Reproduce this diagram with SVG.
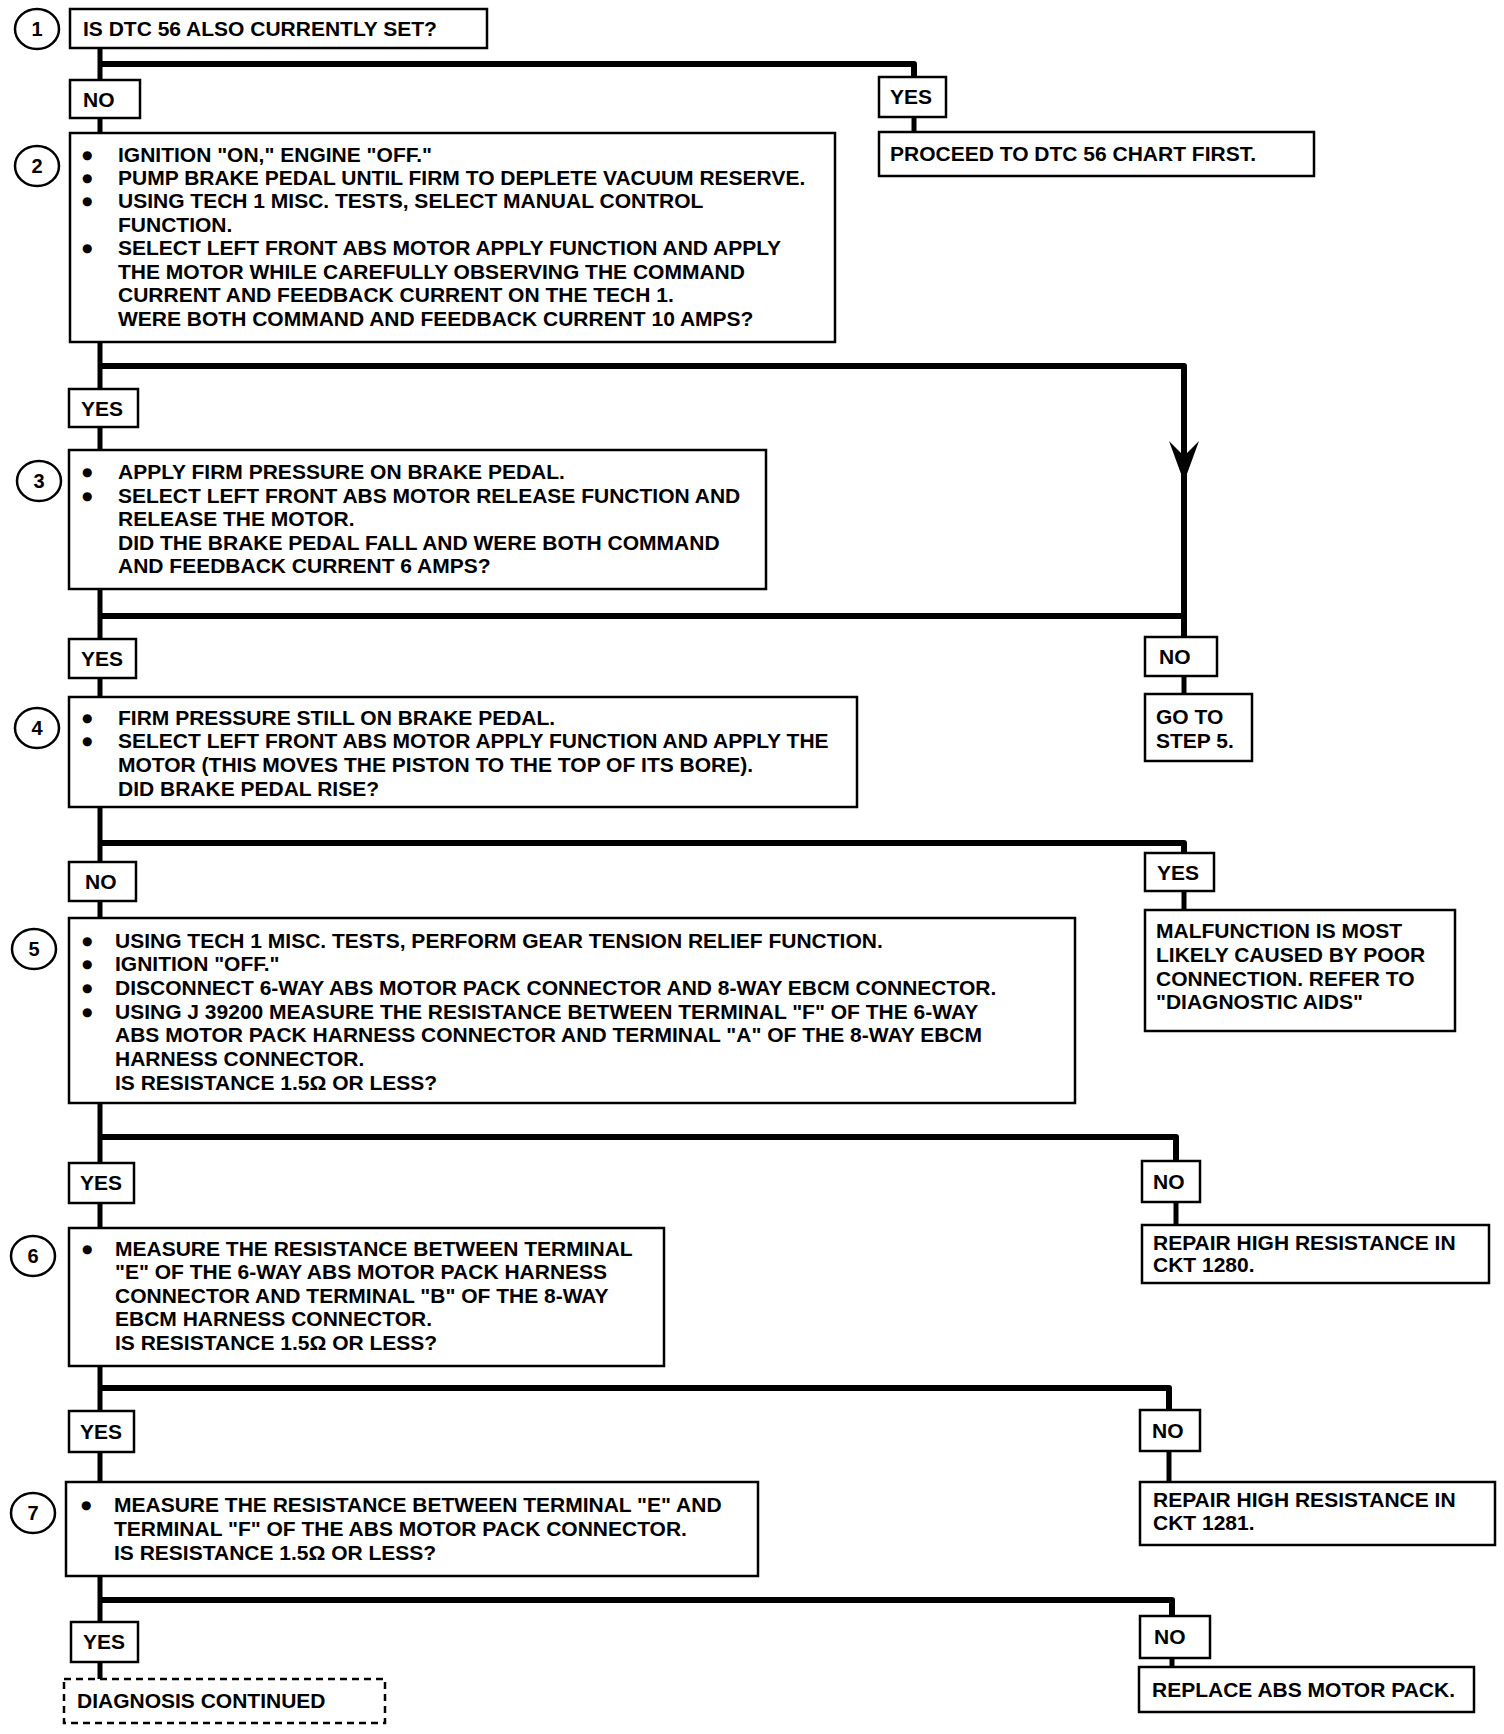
<svg xmlns="http://www.w3.org/2000/svg" width="1504" height="1734" viewBox="0 0 1504 1734">
<style>
.box{fill:#fff;stroke:#000;stroke-width:2.5}
.dash{fill:#fff;stroke:#000;stroke-width:2.5;stroke-dasharray:7 5}
.num{fill:#fff;stroke:#000;stroke-width:2.5}
.t{font-family:"Liberation Sans",Arial,sans-serif;font-weight:bold;font-size:21px;fill:#000}
.b{font-family:"DejaVu Sans",sans-serif;font-size:12px}
.n{font-family:"Liberation Sans",Arial,sans-serif;font-weight:bold;font-size:20px;fill:#000;text-anchor:middle}
.bar{fill:none;stroke:#000;stroke-width:6;stroke-linejoin:round}
.stem{fill:none;stroke:#000;stroke-width:5}
</style>
<rect width="1504" height="1734" fill="#fff"/>
<g id="connectors">
<path class="stem" d="M100,48V80M100,118V133M100,342V389M100,427V450M100,589V639M100,678V697M100,807V862M100,901V918M100,1103V1163M100,1203V1228M100,1366V1411M100,1452V1482M100,1576V1622M100,1662V1679"/>
<path class="bar" d="M100,64H914V77"/>
<path class="stem" d="M914,117V132"/>
<path class="bar" d="M100,366H1184V636"/>
<path class="bar" d="M100,616H1184"/>
<polygon points="1169,441 1184,456 1199,441 1184,482" fill="#000"/>
<path class="stem" d="M1184,676V694"/>
<path class="bar" d="M100,843H1184V853"/>
<path class="stem" d="M1184,891V910"/>
<path class="bar" d="M100,1137H1176V1161"/>
<path class="stem" d="M1176,1202V1225"/>
<path class="bar" d="M100,1388H1169V1410"/>
<path class="stem" d="M1169,1451V1482"/>
<path class="bar" d="M100,1600H1172V1616"/>
<path class="stem" d="M1172,1658V1667"/>
</g>
<g id="step1">
<ellipse class="num" cx="37" cy="29" rx="22" ry="20"/><text class="n" x="37" y="36">1</text>
<rect class="box" x="70" y="9" width="417" height="39"/>
<text class="t" x="83" y="36">IS DTC 56 ALSO CURRENTLY SET?</text>
</g>
<g id="no1"><rect class="box" x="70" y="80" width="70" height="38"/><text class="t" x="83" y="107">NO</text></g>
<g id="yes1"><rect class="box" x="879" y="77" width="67" height="40"/><text class="t" x="890" y="104">YES</text></g>
<g id="proceed"><rect class="box" x="879" y="132" width="435" height="44"/><text class="t" x="890" y="161">PROCEED TO DTC 56 CHART FIRST.</text></g>
<g id="step2">
<ellipse class="num" cx="37" cy="166" rx="22" ry="20"/><text class="n" x="37" y="173">2</text>
<rect class="box" x="70" y="133" width="765" height="209"/>
<text class="t"><tspan class="b" x="82" y="159">●</tspan><tspan x="118" y="162">IGNITION "ON," ENGINE "OFF."</tspan>
<tspan class="b" x="82" y="182">●</tspan><tspan x="118" y="185">PUMP BRAKE PEDAL UNTIL FIRM TO DEPLETE VACUUM RESERVE.</tspan>
<tspan class="b" x="82" y="205">●</tspan><tspan x="118" y="208">USING TECH 1 MISC. TESTS, SELECT MANUAL CONTROL</tspan>
<tspan x="118" y="232">FUNCTION.</tspan>
<tspan class="b" x="82" y="252">●</tspan><tspan x="118" y="255">SELECT LEFT FRONT ABS MOTOR APPLY FUNCTION AND APPLY</tspan>
<tspan x="118" y="279">THE MOTOR WHILE CAREFULLY OBSERVING THE COMMAND</tspan>
<tspan x="118" y="302">CURRENT AND FEEDBACK CURRENT ON THE TECH 1.</tspan>
<tspan x="118" y="326">WERE BOTH COMMAND AND FEEDBACK CURRENT 10 AMPS?</tspan></text>
</g>
<g id="yes2"><rect class="box" x="69" y="389" width="69" height="38"/><text class="t" x="81" y="416">YES</text></g>
<g id="step3">
<ellipse class="num" cx="39" cy="481" rx="22" ry="20"/><text class="n" x="39" y="488">3</text>
<rect class="box" x="69" y="450" width="697" height="139"/>
<text class="t"><tspan class="b" x="82" y="476">●</tspan><tspan x="118" y="479">APPLY FIRM PRESSURE ON BRAKE PEDAL.</tspan>
<tspan class="b" x="82" y="500">●</tspan><tspan x="118" y="503">SELECT LEFT FRONT ABS MOTOR RELEASE FUNCTION AND</tspan>
<tspan x="118" y="526">RELEASE THE MOTOR.</tspan>
<tspan x="118" y="550">DID THE BRAKE PEDAL FALL AND WERE BOTH COMMAND</tspan>
<tspan x="118" y="573">AND FEEDBACK CURRENT 6 AMPS?</tspan></text>
</g>
<g id="yes3"><rect class="box" x="69" y="639" width="67" height="39"/><text class="t" x="81" y="666">YES</text></g>
<g id="no3"><rect class="box" x="1145" y="637" width="72" height="39"/><text class="t" x="1159" y="664">NO</text></g>
<g id="goto5"><rect class="box" x="1145" y="694" width="107" height="67"/>
<text class="t"><tspan x="1156" y="724">GO TO</tspan><tspan x="1156" y="748">STEP 5.</tspan></text></g>
<g id="step4">
<ellipse class="num" cx="37" cy="728" rx="22" ry="20"/><text class="n" x="37" y="735">4</text>
<rect class="box" x="69" y="697" width="788" height="110"/>
<text class="t"><tspan class="b" x="82" y="722">●</tspan><tspan x="118" y="725">FIRM PRESSURE STILL ON BRAKE PEDAL.</tspan>
<tspan class="b" x="82" y="745">●</tspan><tspan x="118" y="748">SELECT LEFT FRONT ABS MOTOR APPLY FUNCTION AND APPLY THE</tspan>
<tspan x="118" y="772">MOTOR (THIS MOVES THE PISTON TO THE TOP OF ITS BORE).</tspan>
<tspan x="118" y="796">DID BRAKE PEDAL RISE?</tspan></text>
</g>
<g id="no4"><rect class="box" x="69" y="862" width="67" height="39"/><text class="t" x="85" y="889">NO</text></g>
<g id="yes4"><rect class="box" x="1145" y="853" width="69" height="38"/><text class="t" x="1157" y="880">YES</text></g>
<g id="malfunction"><rect class="box" x="1145" y="910" width="310" height="121"/>
<text class="t"><tspan x="1156" y="938">MALFUNCTION IS MOST</tspan><tspan x="1156" y="962">LIKELY CAUSED BY POOR</tspan><tspan x="1156" y="986">CONNECTION. REFER TO</tspan><tspan x="1156" y="1009">"DIAGNOSTIC AIDS"</tspan></text></g>
<g id="step5">
<ellipse class="num" cx="34" cy="949" rx="22" ry="20"/><text class="n" x="34" y="956">5</text>
<rect class="box" x="69" y="918" width="1006" height="185"/>
<text class="t"><tspan class="b" x="82" y="945">●</tspan><tspan x="115" y="948">USING TECH 1 MISC. TESTS, PERFORM GEAR TENSION RELIEF FUNCTION.</tspan>
<tspan class="b" x="82" y="968">●</tspan><tspan x="115" y="971">IGNITION "OFF."</tspan>
<tspan class="b" x="82" y="992">●</tspan><tspan x="115" y="995">DISCONNECT 6-WAY ABS MOTOR PACK CONNECTOR AND 8-WAY EBCM CONNECTOR.</tspan>
<tspan class="b" x="82" y="1016">●</tspan><tspan x="115" y="1019">USING J 39200 MEASURE THE RESISTANCE BETWEEN TERMINAL "F" OF THE 6-WAY</tspan>
<tspan x="115" y="1042">ABS MOTOR PACK HARNESS CONNECTOR AND TERMINAL "A" OF THE 8-WAY EBCM</tspan>
<tspan x="115" y="1066">HARNESS CONNECTOR.</tspan>
<tspan x="115" y="1090">IS RESISTANCE 1.5Ω OR LESS?</tspan></text>
</g>
<g id="yes5"><rect class="box" x="69" y="1163" width="65" height="40"/><text class="t" x="80" y="1190">YES</text></g>
<g id="no5"><rect class="box" x="1142" y="1161" width="58" height="41"/><text class="t" x="1153" y="1189">NO</text></g>
<g id="repair1280"><rect class="box" x="1142" y="1225" width="347" height="58"/>
<text class="t"><tspan x="1153" y="1250">REPAIR HIGH RESISTANCE IN</tspan><tspan x="1153" y="1272">CKT 1280.</tspan></text></g>
<g id="step6">
<ellipse class="num" cx="33" cy="1256" rx="22" ry="20"/><text class="n" x="33" y="1263">6</text>
<rect class="box" x="69" y="1228" width="595" height="138"/>
<text class="t"><tspan class="b" x="82" y="1253">●</tspan><tspan x="115" y="1256">MEASURE THE RESISTANCE BETWEEN TERMINAL</tspan>
<tspan x="115" y="1279">"E" OF THE 6-WAY ABS MOTOR PACK HARNESS</tspan>
<tspan x="115" y="1303">CONNECTOR AND TERMINAL "B" OF THE 8-WAY</tspan>
<tspan x="115" y="1326">EBCM HARNESS CONNECTOR.</tspan>
<tspan x="115" y="1350">IS RESISTANCE 1.5Ω OR LESS?</tspan></text>
</g>
<g id="yes6"><rect class="box" x="69" y="1411" width="65" height="41"/><text class="t" x="80" y="1439">YES</text></g>
<g id="no6"><rect class="box" x="1140" y="1410" width="60" height="41"/><text class="t" x="1152" y="1438">NO</text></g>
<g id="repair1281"><rect class="box" x="1140" y="1482" width="355" height="63"/>
<text class="t"><tspan x="1153" y="1507">REPAIR HIGH RESISTANCE IN</tspan><tspan x="1153" y="1530">CKT 1281.</tspan></text></g>
<g id="step7">
<ellipse class="num" cx="33" cy="1513" rx="22" ry="20"/><text class="n" x="33" y="1520">7</text>
<rect class="box" x="66" y="1482" width="692" height="94"/>
<text class="t"><tspan class="b" x="81" y="1509">●</tspan><tspan x="114" y="1512">MEASURE THE RESISTANCE BETWEEN TERMINAL "E" AND</tspan>
<tspan x="114" y="1536">TERMINAL "F" OF THE ABS MOTOR PACK CONNECTOR.</tspan>
<tspan x="114" y="1560">IS RESISTANCE 1.5Ω OR LESS?</tspan></text>
</g>
<g id="yes7"><rect class="box" x="71" y="1622" width="67" height="40"/><text class="t" x="83" y="1649">YES</text></g>
<g id="no7"><rect class="box" x="1140" y="1616" width="70" height="42"/><text class="t" x="1154" y="1644">NO</text></g>
<g id="replace"><rect class="box" x="1139" y="1667" width="335" height="45"/><text class="t" x="1152" y="1697">REPLACE ABS MOTOR PACK.</text></g>
<g id="continued"><rect class="dash" x="64" y="1679" width="321" height="44"/><text class="t" x="77" y="1708">DIAGNOSIS CONTINUED</text></g>
</svg>
